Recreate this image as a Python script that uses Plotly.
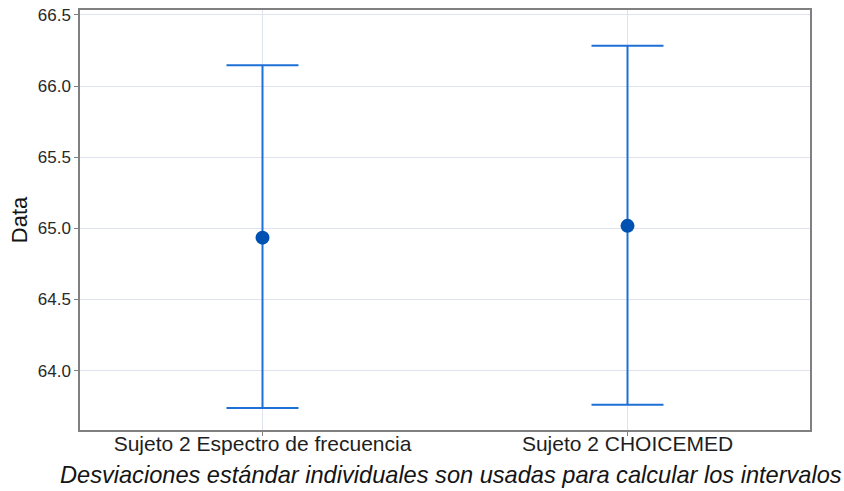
import plotly.graph_objects as go

# Interval plot: mean with individual-SD intervals per group
categories = ["Sujeto 2 Espectro de frecuencia", "Sujeto 2 CHOICEMED"]
means = [64.935, 65.018]
upper = [66.147, 66.284]
lower = [63.738, 63.761]

err_plus = [u - m for u, m in zip(upper, means)]
err_minus = [m - l for m, l in zip(means, lower)]

FONT = "Liberation Sans, Arial, Helvetica, sans-serif"
LINE_BLUE = "rgb(30,112,214)"
DOT_BLUE = "rgb(0,82,178)"
GRID = "rgb(222,227,237)"
FRAME = "rgb(128,128,128)"

fig = go.Figure()
fig.add_trace(go.Scatter(
    x=categories,
    y=means,
    mode="markers",
    marker=dict(size=14, color=DOT_BLUE),
    error_y=dict(
        type="data",
        symmetric=False,
        array=err_plus,
        arrayminus=err_minus,
        color=LINE_BLUE,
        thickness=2,
        width=36,
    ),
    showlegend=False,
))

fig.update_layout(
    width=844,
    height=491,
    margin=dict(l=80, r=34, t=10, b=61, autoexpand=False),
    paper_bgcolor="white",
    plot_bgcolor="white",
    font=dict(family=FONT, color="rgb(30,30,30)"),
    xaxis=dict(
        type="category",
        range=[-0.5, 1.5],
        automargin=False,
        showgrid=True,
        gridcolor=GRID,
        gridwidth=1,
        showline=True,
        linecolor=FRAME,
        linewidth=1.5,
        mirror=True,
        ticks="outside",
        ticklen=4,
        tickcolor=FRAME,
        ticklabelstandoff=-10,
        tickfont=dict(size=21, family=FONT, color="rgb(30,30,30)"),
        zeroline=False,
    ),
    yaxis=dict(
        range=[63.583, 66.535],
        automargin=False,
        tickvals=[64.0, 64.5, 65.0, 65.5, 66.0, 66.5],
        ticktext=["64.0", "64.5", "65.0", "65.5", "66.0", "66.5"],
        showgrid=True,
        gridcolor=GRID,
        gridwidth=1,
        showline=True,
        linecolor=FRAME,
        linewidth=1.5,
        mirror=True,
        ticks="outside",
        ticklen=4,
        tickcolor=FRAME,
        tickfont=dict(size=17, family=FONT, color="rgb(40,40,40)"),
        title=dict(text="Data", font=dict(size=22, family=FONT, color="rgb(20,20,20)"), standoff=4),
        zeroline=False,
    ),
    annotations=[dict(
        text="<i>Desviaciones estándar individuales son usadas para calcular los intervalos</i>",
        xref="paper", yref="paper",
        x=0.5, y=0, xshift=6,
        yanchor="middle", yshift=-45,
        showarrow=False,
        font=dict(size=23.6, family=FONT, color="rgb(20,20,20)"),
    )],
)

fig.write_html("out.html")
